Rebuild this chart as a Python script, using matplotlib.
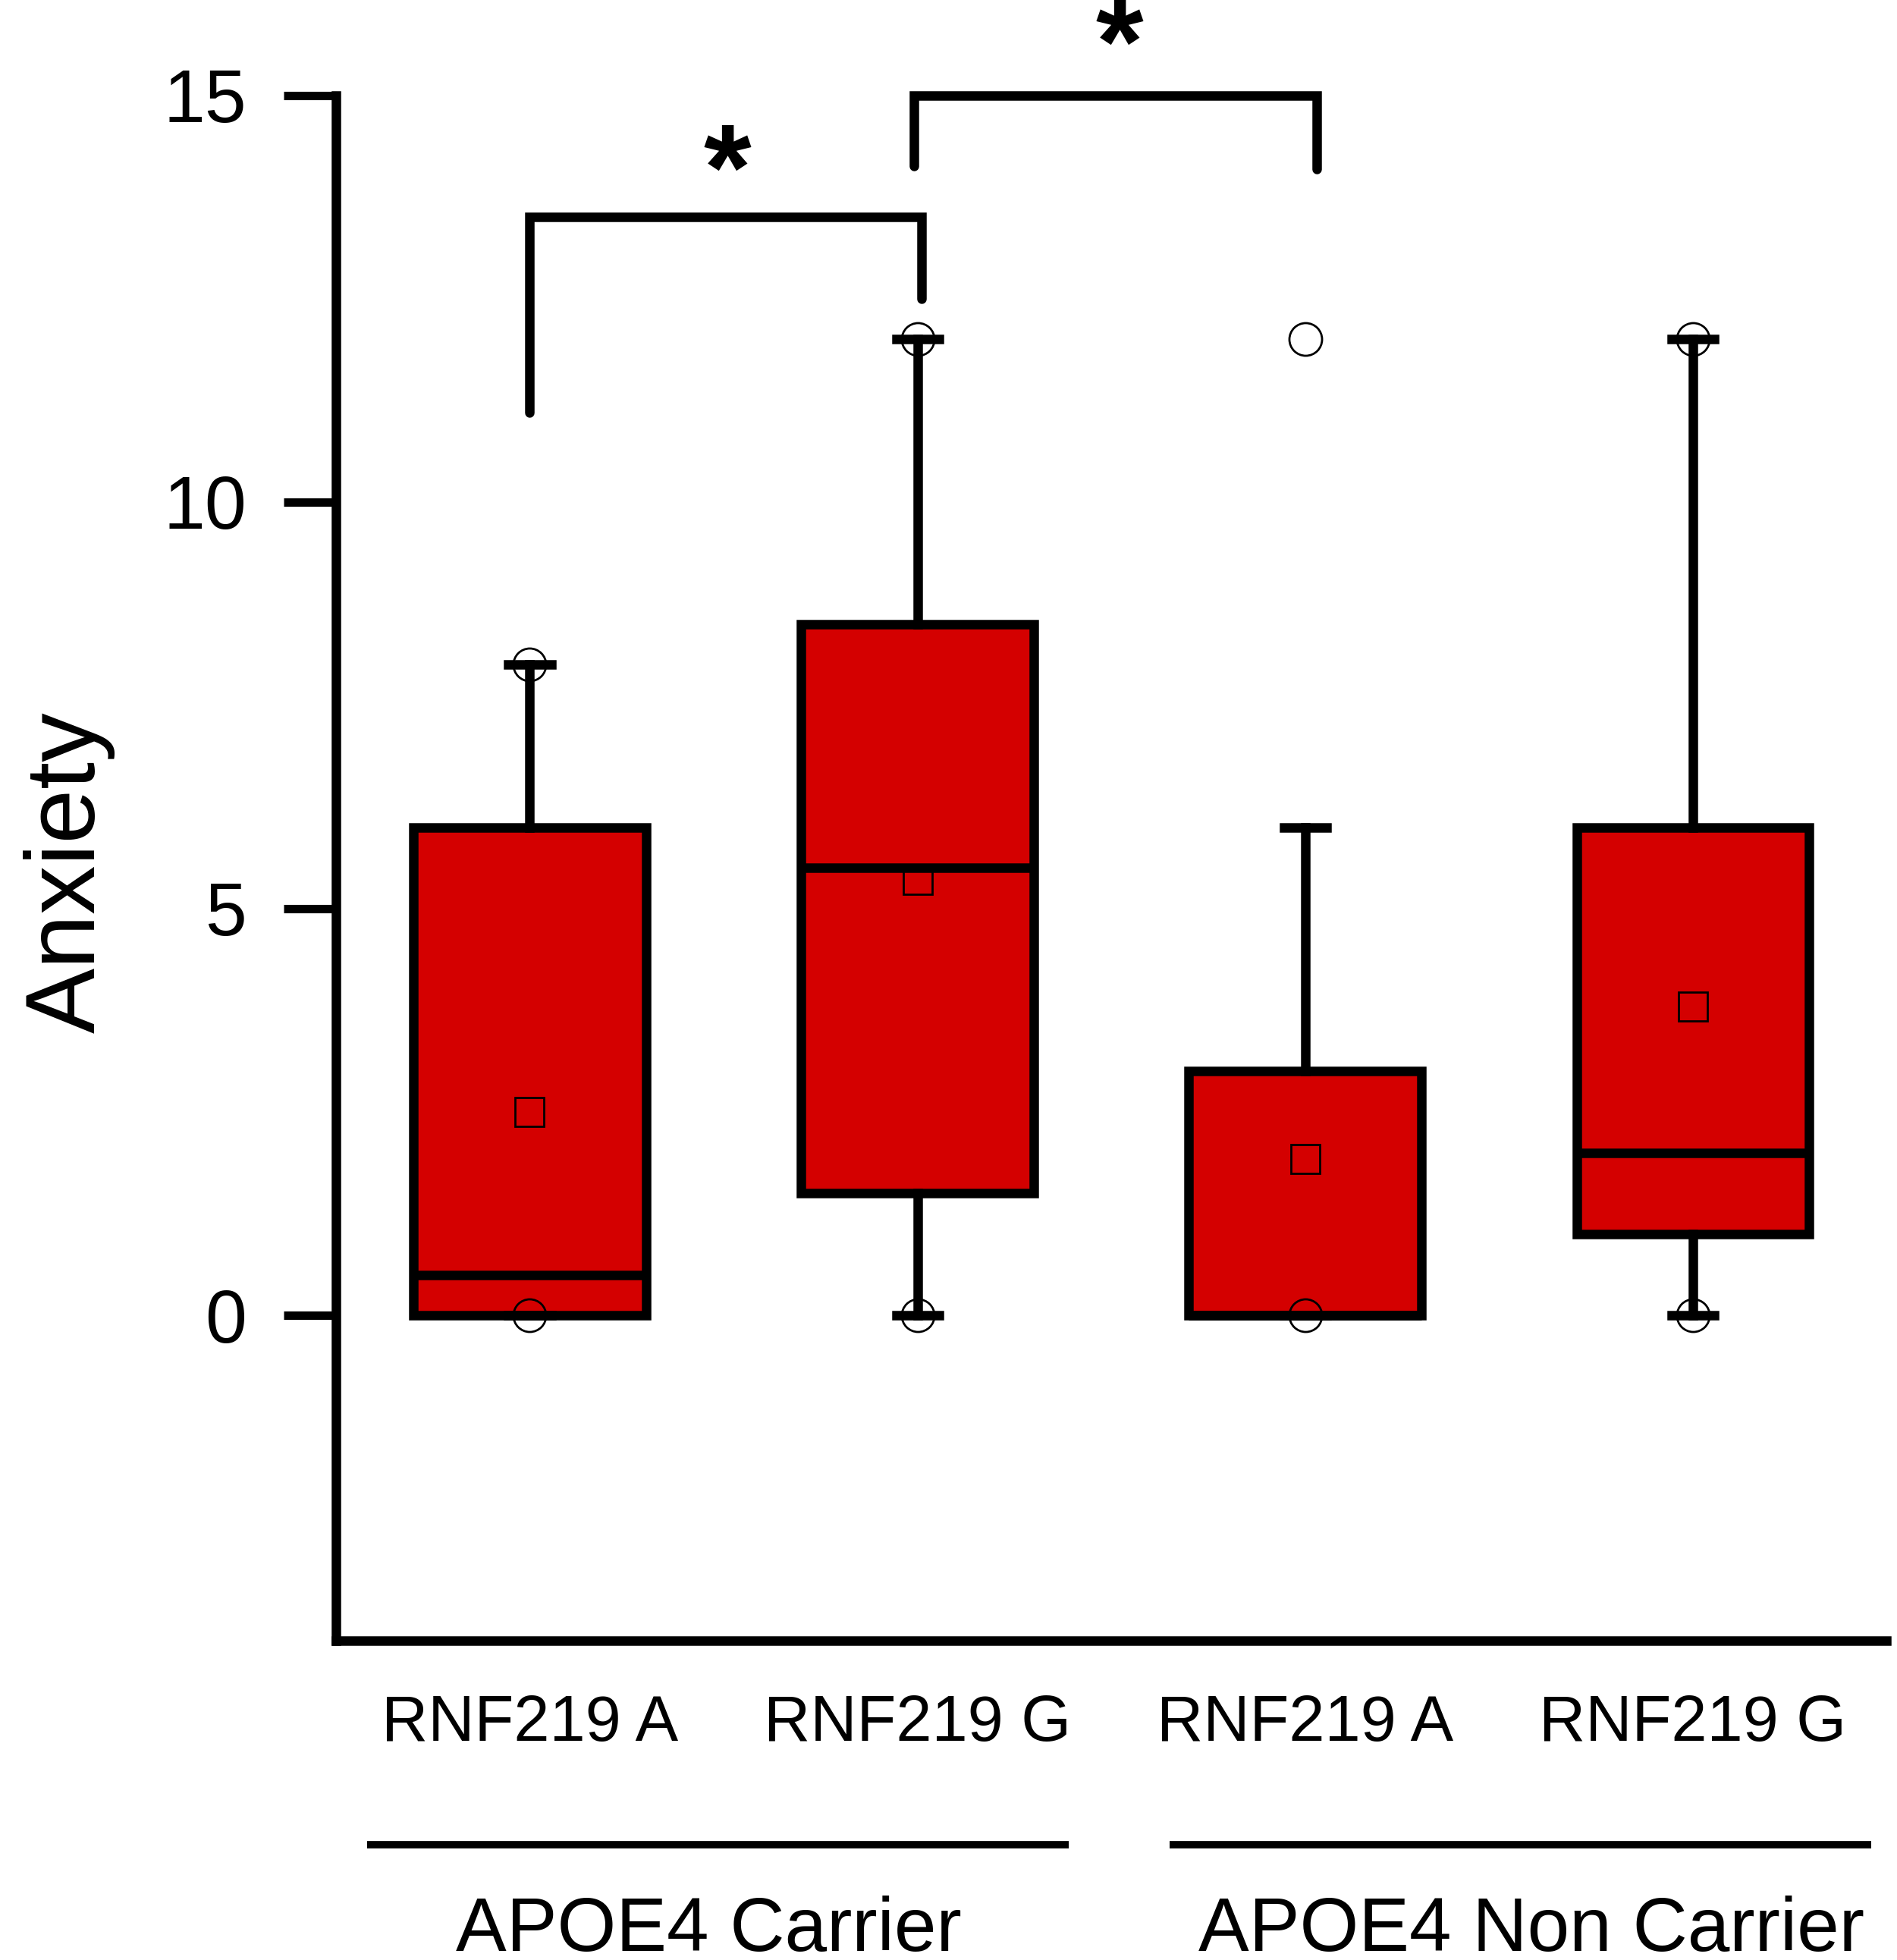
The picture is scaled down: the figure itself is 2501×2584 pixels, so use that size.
import matplotlib
matplotlib.use("Agg")
import matplotlib.pyplot as plt

plt.rcParams['font.family'] = ['Liberation Sans', 'DejaVu Sans']

# box statistics
labels = ['RNF219 A', 'RNF219 G', 'RNF219 A', 'RNF219 G']
q1 = [0, 1.5, 0, 1]
med = [0.5, 5.5, 0, 2]
q3 = [6, 8.5, 3, 6]
whislo = [0, 0, 0, 0]
whishi = [8, 12, 6, 12]
means = [2.5, 5.35, 1.92, 3.8]
points = [[0, 8], [0, 12], [0, 12], [0, 12]]

groups = ['APOE4 Carrier', 'APOE4 Non Carrier']
group_span = [(0.58, 2.39), (2.65, 4.46)]
group_text_x = [1.462, 3.584]

# significance brackets: x left, x right, bar height, left leg end, right leg end
brackets = [(1.0, 2.01, 13.5, 11.1, 12.5), (1.99, 3.03, 15.0, 14.13, 14.09)]
star_pos = [(1.51, 14.45), (2.52, 16.0)]

stats = []
for i in range(4):
    stats.append(dict(q1=q1[i], med=med[i], q3=q3[i], whislo=whislo[i],
                      whishi=whishi[i], mean=means[i], fliers=points[i]))

fig = plt.figure(figsize=(25.01, 25.84), dpi=100)
ax = fig.add_axes([0.1771, 0.1629, 0.8175, 0.7885])

lw = 9
ax.bxp(stats, positions=[1, 2, 3, 4], widths=0.6, capwidths=0.11,
       patch_artist=True, showmeans=True, showfliers=True,
       boxprops=dict(facecolor='#d40000', edgecolor='black', linewidth=lw),
       whiskerprops=dict(color='black', linewidth=lw),
       capprops=dict(color='black', linewidth=lw),
       medianprops=dict(color='black', linewidth=lw),
       meanprops=dict(marker='s', markersize=28, markerfacecolor='none',
                      markeredgecolor='black', markeredgewidth=2),
       flierprops=dict(marker='o', markersize=31, markerfacecolor='none',
                       markeredgecolor='black', markeredgewidth=2))

ax.set_xlim(0.5, 4.5)
ax.set_ylim(-4, 15)

for s in ['top', 'right']:
    ax.spines[s].set_visible(False)
for s in ['left', 'bottom']:
    ax.spines[s].set_linewidth(lw)

ax.set_yticks([0, 5, 10, 15])
ax.tick_params(axis='y', length=50, width=8, pad=35, labelsize=71)
ax.set_xticks([1, 2, 3, 4], labels)
ax.tick_params(axis='x', length=0, pad=50, labelsize=61)

ax.set_ylabel('Anxiety', fontsize=93)
ax.yaxis.set_label_coords(-0.1555, 0.497)
ax.yaxis.label.set_va('baseline')

# brackets and stars
for xl, xr, yb, yl, yr in brackets:
    ax.plot([xl, xl, xr, xr], [yl, yb, yb, yr], color='black', lw=lw,
            solid_joinstyle='miter', solid_capstyle='round', clip_on=False)
for x, y in star_pos:
    ax.text(x, y - 0.85, '*', ha='center', va='baseline', fontsize=116,
            fontweight='bold', clip_on=False)

# group lines and labels under the axis
trans = ax.get_xaxis_transform()
for (x0, x1), name, tx in zip(group_span, groups, group_text_x):
    ax.plot([x0, x1], [-0.132, -0.132], color='black', lw=7, transform=trans,
            clip_on=False, solid_capstyle='butt')
    ax.text(tx, -0.2005, name, ha='center', va='baseline',
            fontsize=72, transform=trans)

fig.savefig('out.png', dpi=100)
